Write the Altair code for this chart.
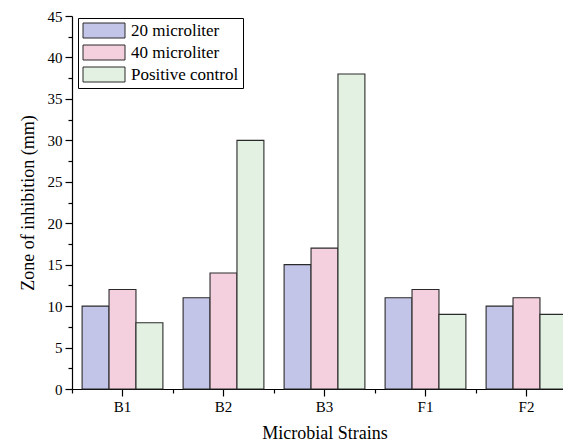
import altair as alt
import pandas as pd

strains = ["B1", "B2", "B3", "F1", "F2"]
series = ["20 microliter", "40 microliter", "Positive control"]
v20 = [10, 11, 15, 11, 10]
v40 = [12, 14, 17, 12, 11]
vpc = [8, 30, 38, 9, 9]
fills = ["#c3c5e8", "#f4d0de", "#e2f1e2"]
major_y = [0, 5, 10, 15, 20, 25, 30, 35, 40, 45]
minor_y = [2.5, 7.5, 12.5, 17.5, 22.5, 27.5, 32.5, 37.5, 42.5]

rows = []
for i, s in enumerate(strains):
    for name, vals in zip(series, [v20, v40, vpc]):
        rows.append({"strain": s, "series": name, "value": vals[i]})
df = pd.DataFrame(rows)

FONT = "Liberation Serif"
XRANGE = [0, 505]
# 42 x 15 rectangle starting at the symbol's left edge (unit = 7.5 px)
legend_shape = "M-1,-1H4.6V1H-1Z"

bars = alt.Chart(df).mark_bar(stroke="#2a2a2a", strokeWidth=1.1).encode(
    x=alt.X(
        "strain:N", sort=strains,
        scale=alt.Scale(range=XRANGE, paddingInner=0.2, paddingOuter=0.1),
        axis=alt.Axis(
            title="Microbial Strains", labelAngle=0, labelFont=FONT, labelFontSize=15,
            labelColor="black", titleFont=FONT, titleFontSize=18, titleFontWeight="normal",
            titleColor="black", tickSize=7, tickColor="black", domainColor="black",
            domainWidth=1.2, tickWidth=1.2, labelPadding=3, titlePadding=10,
        ),
    ),
    xOffset=alt.XOffset("series:N", sort=series, scale=alt.Scale(paddingInner=0, paddingOuter=0)),
    y=alt.Y(
        "value:Q",
        scale=alt.Scale(domain=[0, 45], nice=False, zero=True),
        axis=alt.Axis(
            values=major_y, title="Zone of inhibition (mm)", grid=False,
            labelFont=FONT, labelFontSize=15, labelColor="black",
            titleFont=FONT, titleFontSize=18, titleFontWeight="normal", titleColor="black",
            tickSize=7, tickColor="black", domainColor="black", domainWidth=1.2,
            tickWidth=1.2, labelPadding=3, titlePadding=10,
        ),
    ),
    fill=alt.Fill(
        "series:N", sort=series,
        scale=alt.Scale(domain=series, range=fills),
        legend=alt.Legend(
            title=None, orient="none", legendX=6, legendY=2,
            strokeColor="black", padding=4, fillColor="white",
            symbolType=legend_shape, symbolSize=225, symbolStrokeColor="#2a2a2a",
            symbolStrokeWidth=1, symbolOpacity=1,
            labelFont=FONT, labelFontSize=17, labelColor="black", rowPadding=3,
            labelOffset=32,
        ),
    ),
)

minor = alt.Chart(df).mark_point(opacity=0).encode(
    x=alt.X(
        "strain:N", sort=strains,
        scale=alt.Scale(range=XRANGE, paddingInner=0, paddingOuter=0),
        axis=alt.Axis(tickBand="extent", labels=False, domain=False, title=None,
                      tickSize=4, tickColor="black", tickWidth=1.2, orient="bottom"),
    ),
    y=alt.Y(
        "value:Q",
        scale=alt.Scale(domain=[0, 45], nice=False, zero=True),
        axis=alt.Axis(values=minor_y, labels=False, domain=False, title=None, grid=False,
                      tickSize=4, tickColor="black", tickWidth=1.2, orient="left"),
    ),
)

chart = alt.layer(bars, minor).resolve_scale(
    x="independent", y="independent"
).resolve_axis(
    x="independent", y="independent"
).properties(
    width=491, height=373,
    padding={"left": 64, "top": 8, "right": 0, "bottom": 56},
    autosize=alt.AutoSizeParams(type="none"),
).configure(
    font=FONT
).configure_view(stroke=None)

chart.save("out.html", embed_options={"renderer": "svg", "actions": False})
